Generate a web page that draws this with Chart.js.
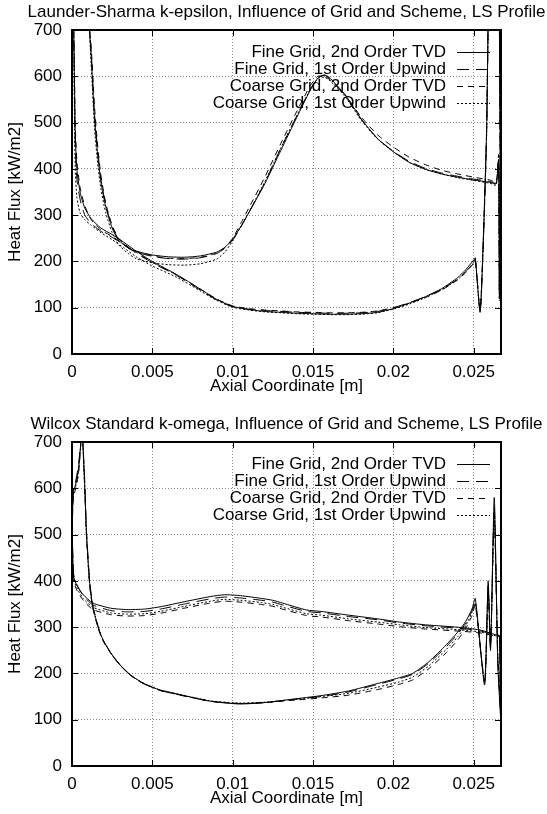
<!DOCTYPE html>
<html><head><meta charset="utf-8">
<script src="https://cdn.jsdelivr.net/npm/chart.js@4.4.0/dist/chart.umd.min.js"></script>
<style>
html,body{margin:0;padding:0;background:#fff;}
#wrap{position:relative;width:547px;height:814px;overflow:hidden;background:#fff;}
.panel{position:absolute;left:0;width:547px;height:412px;}
#p1{top:0}
#p2{top:412px}
</style></head><body>
<div id="wrap">
<div class="panel" id="p1"><canvas id="c1" width="547" height="412"></canvas></div>
<div class="panel" id="p2"><canvas id="c2" width="547" height="412"></canvas></div>
</div>
<script>
// ---------- DATA ----------
const seriesNames = ['Fine Grid, 2nd Order TVD', 'Fine Grid, 1st Order Upwind', 'Coarse Grid, 2nd Order TVD', 'Coarse Grid, 1st Order Upwind'];
const titleTop = 'Launder-Sharma k-epsilon, Influence of Grid and Scheme, LS Profile';
const titleBottom = 'Wilcox Standard k-omega, Influence of Grid and Scheme, LS Profile';
const xAxisTitle = 'Axial Coordinate [m]';
const yAxisTitle = 'Heat Flux [kW/m2]';
const xTickValues = [0, 0.005, 0.01, 0.015, 0.02, 0.025];
const xTickLabels = ['0', '0.005', '0.01', '0.015', '0.02', '0.025'];
const yTickValues = [0, 100, 200, 300, 400, 500, 600, 700];

// Top panel (Launder-Sharma) : lower branch
const xTopLower = [0.0001, 0.00015, 0.0002, 0.0003, 0.0005, 0.0008, 0.0012, 0.0018, 0.0025, 0.0032, 0.004, 0.005, 0.0065, 0.008, 0.009, 0.01, 0.011, 0.012, 0.013, 0.014, 0.015, 0.016, 0.017, 0.018, 0.019, 0.02, 0.021, 0.022, 0.023, 0.024, 0.0245, 0.025, 0.0251, 0.0254, 0.0256, 0.0258, 0.0259];
const topLowerFineTVD = [720, 600, 480, 400, 350, 315, 292, 272, 258, 242, 222, 200, 172, 140, 118, 103, 96, 92, 90, 88, 87, 86, 86, 87, 90, 98, 110, 124, 141, 165, 182, 203, 208, 90, 250, 480, 720];
const topLowerFineUpw = [720, 580, 450, 380, 335, 300, 282, 265, 252, 237, 218, 197, 170, 138, 117, 102, 97, 94, 92, 90, 89, 88, 88, 89, 92, 100, 111, 124, 140, 162, 178, 198, 205, 92, 240, 470, 720];
const topLowerCoarseTVD = [720, 620, 500, 420, 360, 320, 290, 268, 254, 238, 220, 198, 171, 140, 119, 104, 98, 95, 93, 91, 90, 89, 89, 90, 93, 100, 110, 122, 138, 160, 176, 196, 203, 95, 245, 470, 720];
const topLowerCoarseUpw = [720, 520, 400, 340, 305, 290, 278, 262, 247, 230, 210, 190, 166, 136, 116, 101, 95, 91, 89, 87, 86, 85, 85, 86, 89, 97, 108, 122, 139, 161, 177, 198, 204, 92, 245, 470, 720];
// Top panel : upper branch
const xTopUpper = [0.00105, 0.0012, 0.0014, 0.0016, 0.0018, 0.0021, 0.0025, 0.0029, 0.0035, 0.004, 0.005, 0.006, 0.007, 0.008, 0.009, 0.0095, 0.01, 0.0105, 0.011, 0.012, 0.013, 0.014, 0.0148, 0.0153, 0.0157, 0.016, 0.017, 0.018, 0.019, 0.02, 0.021, 0.022, 0.023, 0.024, 0.025, 0.026, 0.0264, 0.02655, 0.0266, 0.02665, 0.0266];
const topUpperFineTVD = [720, 640, 510, 430, 372, 318, 272, 246, 229, 222, 214, 210, 209, 212, 220, 230, 248, 275, 305, 368, 440, 512, 568, 596, 603, 598, 560, 508, 466, 437, 414, 399, 389, 382, 376, 371, 368, 420, 120, 400, 720];
const topUpperFineUpw = [720, 650, 520, 440, 378, 322, 275, 248, 229, 220, 211, 206, 205, 208, 217, 228, 246, 274, 305, 370, 445, 515, 570, 597, 602, 596, 558, 507, 466, 438, 416, 401, 391, 384, 378, 373, 369, 420, 120, 400, 720];
const topUpperCoarseTVD = [720, 660, 535, 450, 386, 326, 278, 250, 231, 222, 212, 207, 206, 209, 218, 230, 250, 282, 315, 382, 455, 525, 578, 600, 600, 594, 560, 512, 474, 447, 425, 409, 397, 389, 382, 376, 372, 430, 130, 420, 720];
const topUpperCoarseUpw = [720, 620, 490, 410, 357, 305, 262, 236, 217, 206, 197, 193, 192, 195, 205, 220, 244, 275, 306, 372, 445, 516, 570, 595, 598, 592, 556, 505, 465, 437, 414, 399, 389, 381, 375, 369, 365, 415, 115, 395, 720];

// Bottom panel (Wilcox) : lower branch
const xBotLower = [0.00065, 0.0008, 0.0009, 0.0011, 0.0013, 0.0017, 0.002, 0.0025, 0.003, 0.0036, 0.004, 0.0045, 0.005, 0.0055, 0.0065, 0.0086, 0.0104, 0.012, 0.0141, 0.0155, 0.0172, 0.019, 0.0203, 0.0212, 0.0222, 0.0233, 0.024, 0.0245, 0.0249, 0.0251, 0.02568, 0.0259, 0.02605, 0.02628, 0.0265, 0.02668];
const botLowerFineTVD = [720, 600, 503, 395, 344, 292, 268, 240, 218, 198, 188, 178, 170, 164, 156, 140, 134, 137, 146, 152, 162, 178, 190, 200, 225, 262, 289, 312, 340, 362, 175, 400, 250, 580, 220, 100];
const botLowerFineUpw = [720, 610, 510, 400, 346, 293, 268, 240, 218, 197, 187, 177, 170, 163, 155, 140, 135, 137, 145, 150, 160, 176, 188, 198, 222, 258, 285, 308, 335, 356, 180, 390, 255, 560, 230, 110];
const botLowerCoarseTVD = [720, 590, 495, 390, 340, 290, 266, 239, 217, 197, 187, 177, 170, 163, 155, 140, 135, 137, 143, 147, 153, 165, 176, 186, 210, 245, 272, 297, 325, 348, 185, 380, 260, 540, 240, 120];
const botLowerCoarseUpw = [720, 595, 500, 392, 342, 291, 267, 240, 218, 198, 188, 178, 171, 164, 156, 141, 136, 138, 145, 150, 157, 170, 181, 192, 216, 252, 279, 303, 332, 352, 182, 385, 258, 550, 235, 115];
// Bottom panel : upper branch
const xBotUpper = [0.0006, 0.0004, 0.0002, 0.0001, 0.00004, 0.00003, 0.0001, 0.0003, 0.0007, 0.0013, 0.0024, 0.0034, 0.0045, 0.0055, 0.007, 0.0086, 0.0095, 0.0105, 0.0118, 0.0125, 0.0131, 0.0146, 0.0155, 0.0172, 0.019, 0.0204, 0.022, 0.0243, 0.0255, 0.0264, 0.0266, 0.02668];
const botUpperFineTVD = [720, 640, 605, 595, 560, 480, 410, 390, 370, 352, 341, 338, 339, 344, 355, 366, 370, 368, 362, 358, 352, 337, 334, 326, 318, 311, 305, 299, 293, 283, 282, 100];
const botUpperFineUpw = [720, 650, 610, 600, 570, 490, 415, 392, 368, 348, 336, 333, 334, 339, 350, 361, 365, 363, 358, 354, 348, 334, 331, 323, 316, 309, 303, 297, 291, 282, 281, 110];
const botUpperCoarseTVD = [720, 630, 595, 585, 550, 470, 400, 380, 358, 338, 327, 324, 325, 330, 341, 352, 356, 354, 349, 345, 339, 325, 322, 314, 307, 301, 296, 291, 287, 280, 279, 120];
const botUpperCoarseUpw = [720, 635, 600, 590, 555, 475, 405, 385, 362, 343, 331, 328, 329, 334, 345, 356, 360, 358, 353, 349, 343, 329, 326, 318, 311, 305, 299, 294, 289, 281, 280, 115];

// ---------- STYLE ----------
const FONT = '"Liberation Sans", Arial, Helvetica, sans-serif';
const dashes = [[], [12, 7], [6, 5], [2, 2]];
Chart.defaults.font.family = FONT;
Chart.defaults.font.size = 17;
Chart.defaults.color = '#000';

function pts(xs, ys) { return xs.map((x, i) => ({ x: x, y: ys[i] })); }

function makeDatasets(xL, lowers, xU, uppers) {
  const ds = [];
  for (let i = 0; i < 4; i++) {
    [[xL, lowers[i]], [xU, uppers[i]]].forEach(([xs, ys]) => {
      ds.push({
        label: seriesNames[i],
        data: pts(xs, ys),
        showLine: true,
        borderColor: '#000',
        borderWidth: 1,
        borderDash: dashes[i],
        pointRadius: 0,
        tension: 0.2,
        fill: false
      });
    });
  }
  return ds;
}

function line(ctx, x1, y1, x2, y2) { ctx.beginPath(); ctx.moveTo(x1, y1); ctx.lineTo(x2, y2); ctx.stroke(); }

const decor = {
  id: 'decor',
  afterDraw(chart, args, opts) {
    const { ctx, chartArea: a, scales } = chart;
    ctx.save();
    ctx.strokeStyle = '#000';
    ctx.lineWidth = 1;
    ctx.setLineDash([]);
    const tl = 6;
    scales.x.ticks.forEach(t => {
      const px = Math.round(scales.x.getPixelForValue(t.value)) + 0.5;
      line(ctx, px, a.bottom, px, a.bottom - tl);
      line(ctx, px, a.top, px, a.top + tl);
    });
    scales.y.ticks.forEach(t => {
      const py = Math.round(scales.y.getPixelForValue(t.value)) + 0.5;
      line(ctx, a.left, py, a.left + tl, py);
      line(ctx, a.right, py, a.right - tl, py);
    });
    ctx.lineWidth = 2;
    ctx.strokeRect(a.left, a.top, a.right - a.left, a.bottom - a.top);
    // title
    ctx.fillStyle = '#000';
    ctx.font = '17px ' + FONT;
    ctx.textAlign = 'center';
    ctx.textBaseline = 'middle';
    ctx.fillText(opts.title, (a.left + a.right) / 2, 12.5);
    // legend
    ctx.textAlign = 'right';
    seriesNames.forEach((name, i) => {
      const y = a.top + 22 + 17 * i;
      ctx.fillText(name, a.right - 55, y);
      ctx.lineWidth = 1;
      ctx.setLineDash(dashes[i]);
      line(ctx, a.right - 44, Math.round(y) + 0.5, a.right - 11, Math.round(y) + 0.5);
    });
    ctx.restore();
  }
};

function makeChart(id, title, datasets) {
  return new Chart(document.getElementById(id), {
    type: 'scatter',
    data: { datasets: datasets },
    plugins: [decor],
    options: {
      responsive: false,
      animation: false,
      layout: { padding: { top: 30, right: 46, left: 0, bottom: 0 } },
      plugins: { legend: { display: false }, tooltip: { enabled: false }, title: { display: false }, decor: { title: title } },
      scales: {
        x: {
          type: 'linear', min: 0, max: 0.0267,
          afterBuildTicks: s => { s.ticks = xTickValues.map(v => ({ value: v })); },
          afterFit: s => { s.height = 58; },
          ticks: { padding: 8, color: '#000', callback: (v, i) => xTickLabels[i] },
          grid: { color: '#8a8a8a', lineWidth: 1, drawTicks: false },
          border: { display: false, dash: [1, 2] },
          title: { display: true, text: xAxisTitle, color: '#000', padding: { top: 0, bottom: 15 }, font: { size: 17 } }
        },
        y: {
          type: 'linear', min: 0, max: 700,
          afterBuildTicks: s => { s.ticks = yTickValues.map(v => ({ value: v })); },
          afterFit: s => { s.width = 72; },
          ticks: { padding: 10, color: '#000' },
          grid: { color: '#8a8a8a', lineWidth: 1, drawTicks: false },
          border: { display: false, dash: [1, 2] },
          title: { display: true, text: yAxisTitle, color: '#000', padding: { top: 5, bottom: 0 }, font: { size: 17 } }
        }
      }
    }
  });
}

makeChart('c1', titleTop, makeDatasets(xTopLower,
  [topLowerFineTVD, topLowerFineUpw, topLowerCoarseTVD, topLowerCoarseUpw], xTopUpper,
  [topUpperFineTVD, topUpperFineUpw, topUpperCoarseTVD, topUpperCoarseUpw]));
makeChart('c2', titleBottom, makeDatasets(xBotLower,
  [botLowerFineTVD, botLowerFineUpw, botLowerCoarseTVD, botLowerCoarseUpw], xBotUpper,
  [botUpperFineTVD, botUpperFineUpw, botUpperCoarseTVD, botUpperCoarseUpw]));
</script>
</body></html>
